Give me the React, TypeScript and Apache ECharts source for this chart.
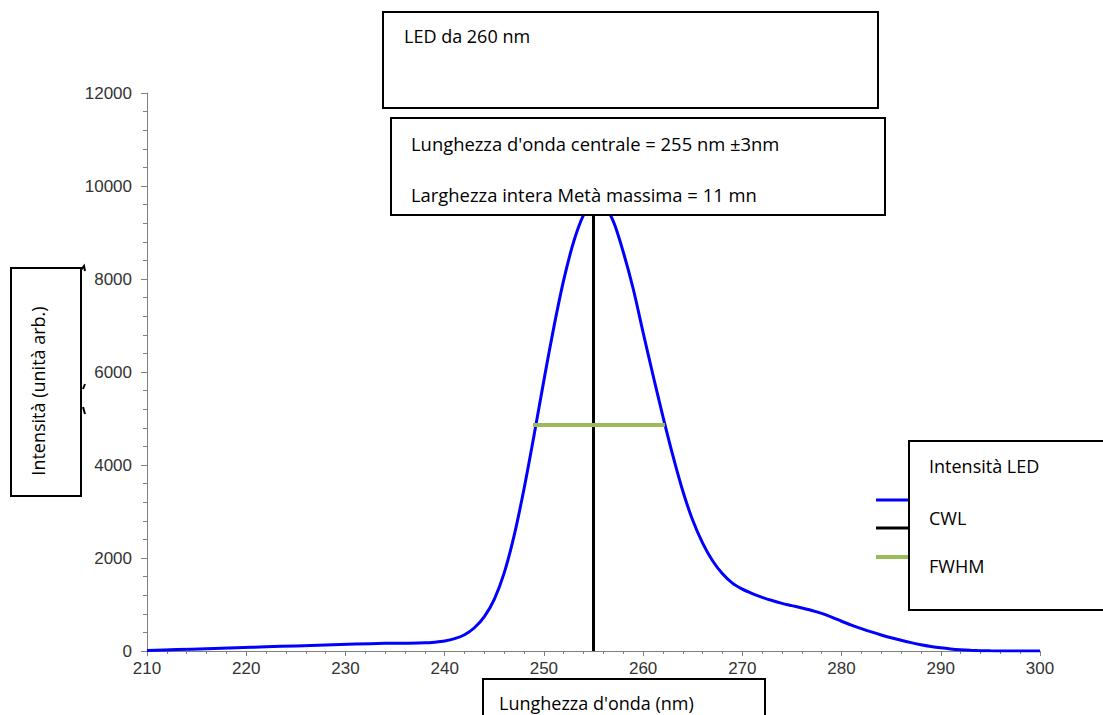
import React, { useEffect, useRef } from "react";
import * as echarts from "echarts";

const wavelengths = [210, 213, 216, 219, 222, 225, 228, 231, 234, 236, 238, 239, 240, 241, 242, 243, 244, 245, 246, 247, 248, 249, 250, 251, 252, 253, 254, 255, 256, 257, 258, 259, 260, 261, 262, 263, 264, 265, 266, 267, 268, 269, 270, 271, 272, 273, 274, 275, 276, 277, 278, 279, 280, 281, 282, 283, 284, 285, 286, 287, 288, 289, 290, 291, 292, 293, 294, 295, 296, 297, 300];
const intensities = [10, 30, 50, 70, 90, 110, 130, 150, 165, 168, 175, 190, 215, 265, 350, 500, 740, 1110, 1680, 2480, 3490, 4630, 5820, 6960, 7980, 8800, 9380, 9680, 9600, 9240, 8580, 7790, 6850, 5930, 5040, 4200, 3440, 2810, 2320, 1940, 1660, 1460, 1330, 1235, 1155, 1085, 1025, 975, 925, 872, 810, 730, 640, 555, 480, 410, 345, 285, 230, 180, 135, 98, 68, 45, 28, 16, 8, 3, 1, 0, 0];

const cwlWavelength = 255;
const cwlTop = 10500;
const fwhmLeft = 248.9;
const fwhmRight = 262.2;
const fwhmLevel = 4860;

const xMin = 210;
const xMax = 300;
const xStep = 10;
const yMin = 0;
const yMax = 12000;
const yStep = 2000;

const titleText = "LED da 260 nm";
const infoLines = ["Lunghezza d'onda centrale = 255 nm ±3nm", "Larghezza intera Metà massima = 11 mn"];
const legendNames = ["Intensità LED", "CWL", "FWHM"];
const legendColors = ["#0000ff", "#000000", "#9bbb59"];
const yTitle = "Intensità (unità arb.)";
const xTitle = "Lunghezza d'onda (nm)";

const boxFont = "'Open Sans', 'Noto Sans', sans-serif";
const axisFont = "'Liberation Sans', Arial, sans-serif";

export default function App() {
  const ref = useRef<HTMLDivElement>(null);
  useEffect(() => {
    if (!ref.current) return;
    const chart = echarts.init(ref.current, null, { renderer: "svg" });
    const curve = wavelengths.map((w, i) => [w, intensities[i]]);
    const boxStyle = { fill: "#ffffff", stroke: "#000000", lineWidth: 2 };
    const txt = (x: number, y: number, text: string, extra: any = {}) => ({
      type: "text",
      x,
      y,
      z: 110,
      style: { text, fill: "#000000", font: `18px ${boxFont}`, textVerticalAlign: "middle", ...extra },
    });
    const mark = (pts: number[][]) => ({
      type: "polyline",
      z: 105,
      shape: { points: pts },
      style: { stroke: "#000000", lineWidth: 2, fill: "none" },
    });
    chart.setOption({
      animation: false,
      backgroundColor: "#ffffff",
      grid: { left: 147, right: 63, top: 93, bottom: 64, containLabel: false },
      xAxis: {
        type: "value",
        min: xMin,
        max: xMax,
        interval: xStep,
        axisLine: { lineStyle: { color: "#808080", width: 1 } },
        axisTick: { show: true, length: 5, lineStyle: { color: "#808080" } },
        minorTick: { show: true, splitNumber: 5, length: 3, lineStyle: { color: "#808080" } },
        splitLine: { show: false },
        axisLabel: { color: "#333333", fontSize: 17, fontFamily: axisFont, margin: 9 },
      },
      yAxis: {
        type: "value",
        min: yMin,
        max: yMax,
        interval: yStep,
        axisLine: { show: true, lineStyle: { color: "#808080", width: 1 } },
        axisTick: { show: true, length: 6, lineStyle: { color: "#808080" } },
        minorTick: { show: true, splitNumber: 5, length: 4, lineStyle: { color: "#808080" } },
        splitLine: { show: false },
        axisLabel: {
          color: "#333333",
          fontSize: 17,
          fontFamily: axisFont,
          margin: 15,
          formatter: (v: number) => String(v),
        },
      },
      series: [
        {
          name: legendNames[0],
          type: "line",
          data: curve,
          smooth: 0.3,
          showSymbol: false,
          symbol: "none",
          lineStyle: { color: legendColors[0], width: 3 },
          z: 3,
        },
        {
          name: legendNames[1],
          type: "line",
          data: [[cwlWavelength, yMin], [cwlWavelength, cwlTop]],
          symbol: "none",
          lineStyle: { color: legendColors[1], width: 3 },
          z: 4,
        },
        {
          name: legendNames[2],
          type: "line",
          data: [[fwhmLeft, fwhmLevel], [fwhmRight, fwhmLevel]],
          symbol: "none",
          lineStyle: { color: legendColors[2], width: 4 },
          z: 5,
        },
      ],
      graphic: [
        { type: "rect", z: 100, shape: { x: 383, y: 12, width: 495, height: 96 }, style: boxStyle },
        txt(404, 36, titleText),
        { type: "rect", z: 100, shape: { x: 391, y: 118, width: 494, height: 97 }, style: boxStyle },
        txt(411, 143, infoLines[0], { font: `18.4px ${boxFont}` }),
        txt(411, 194, infoLines[1], { font: `18.4px ${boxFont}` }),
        { type: "line", z: 90, shape: { x1: 876, y1: 500, x2: 912, y2: 500 }, style: { stroke: legendColors[0], lineWidth: 3 } },
        { type: "line", z: 90, shape: { x1: 876, y1: 528, x2: 912, y2: 528 }, style: { stroke: legendColors[1], lineWidth: 3 } },
        { type: "line", z: 90, shape: { x1: 876, y1: 557, x2: 912, y2: 557 }, style: { stroke: "#9bbb59", lineWidth: 4 } },
        { type: "rect", z: 100, shape: { x: 909, y: 441, width: 210, height: 169 }, style: boxStyle },
        txt(929, 466, legendNames[0]),
        txt(929, 518, legendNames[1]),
        txt(929, 566, legendNames[2]),
        { type: "rect", z: 100, shape: { x: 11, y: 268, width: 70, height: 228 }, style: boxStyle },
        mark([[81, 270], [84, 266], [85, 271]]),
        mark([[83, 389], [85, 384]]),
        mark([[83, 407], [85, 414]]),
        {
          type: "text",
          z: 110,
          x: 38,
          y: 391,
          rotation: Math.PI / 2,
          style: { text: yTitle, fill: "#000000", font: `18px ${boxFont}`, textAlign: "center", textVerticalAlign: "middle" },
        },
        { type: "rect", z: 100, shape: { x: 483, y: 679, width: 282, height: 60 }, style: boxStyle },
        txt(499, 703, xTitle),
      ],
    });
    return () => chart.dispose();
  }, []);
  return <div ref={ref} style={{ position: "fixed", left: 0, top: 0, width: 1103, height: 715 }} />;
}
